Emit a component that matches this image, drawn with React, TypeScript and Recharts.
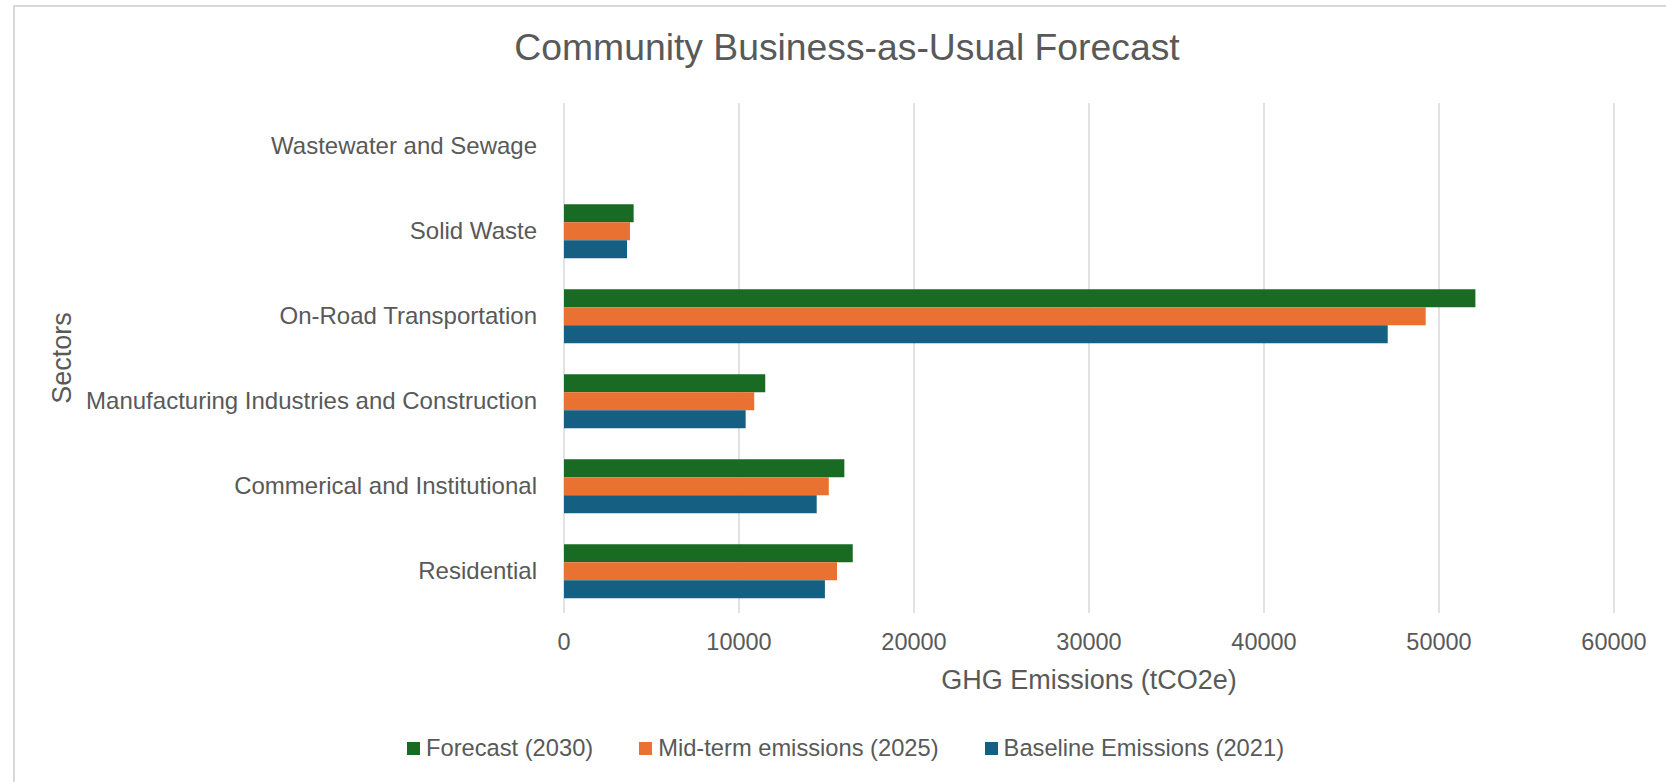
import React from 'react';
import { BarChart, Bar, XAxis, YAxis, CartesianGrid, Legend } from 'recharts';

const categories = [
  'Wastewater and Sewage',
  'Solid Waste',
  'On-Road Transportation',
  'Manufacturing Industries and Construction',
  'Commerical and Institutional',
  'Residential',
];
const forecast2030 = [0, 3980, 52080, 11500, 16020, 16500];
const midterm2025 = [0, 3770, 49240, 10870, 15130, 15600];
const baseline2021 = [0, 3600, 47070, 10380, 14440, 14910];
const xTicks = [0, 10000, 20000, 30000, 40000, 50000, 60000];

const seriesNames = ['Forecast (2030)', 'Mid-term emissions (2025)', 'Baseline Emissions (2021)'];
const seriesColors = ['#196B24', '#E97132', '#156082'];

const data = categories.map((sector, i) => ({
  sector,
  forecast: forecast2030[i],
  midterm: midterm2025[i],
  baseline: baseline2021[i],
}));

const FONT = '"Liberation Sans", Arial, sans-serif';
const TEXT = '#595959';

const LegendContent = () => (
  <div style={{ display: 'flex', alignItems: 'center', fontFamily: FONT, fontSize: 23.7, color: TEXT, height: 30, lineHeight: '30px', whiteSpace: 'nowrap' }}>
    {seriesNames.map((n, i) => (
      <div key={n} style={{ display: 'flex', alignItems: 'center', marginRight: i < 2 ? 46 : 0 }}>
        <span style={{ display: 'inline-block', width: 13, height: 13, background: seriesColors[i], marginRight: 6 }} />
        <span>{n}</span>
      </div>
    ))}
  </div>
);

const SectorsLabel = (props: any) => {
  const vb = props.viewBox || { x: 0, y: 0, width: 0, height: 0 };
  const cx = vb.x + 62;
  const cy = vb.y + vb.height / 2;
  return (
    <text x={cx} y={cy} transform={`rotate(-90, ${cx}, ${cy})`} textAnchor="middle" dominantBaseline="central" fill={TEXT} fontSize={27} fontFamily={FONT}>
      Sectors
    </text>
  );
};

export default function App() {
  return (
    <div style={{ position: 'absolute', left: 0, top: 0, width: 1666, height: 782, background: '#fff', overflow: 'hidden' }}>
      <div style={{ position: 'absolute', left: 13, top: 5, width: 1653, height: 777, borderTop: '2px solid #D9D9D9', borderLeft: '2px solid #D9D9D9', boxSizing: 'border-box' }} />
      <div style={{ position: 'absolute', left: 0, top: 29, width: 1694, textAlign: 'center', fontFamily: FONT, fontSize: 37.3, lineHeight: '37px', color: TEXT, whiteSpace: 'nowrap' }}>
        Community Business-as-Usual Forecast
      </div>
      <div style={{ position: 'absolute', left: 0, top: 0 }}>
        <BarChart
          width={1666}
          height={782}
          data={data}
          layout="vertical"
          margin={{ top: 103, right: 52, bottom: 0, left: 0 }}
          barCategoryGap="19%"
          barGap={0}
        >
          <CartesianGrid horizontal={false} vertical={true} stroke="#D9D9D9" strokeWidth={1.5} />
          <XAxis
            type="number"
            domain={[0, 60000]}
            ticks={xTicks}
            axisLine={false}
            tickLine={false}
            tickMargin={14}
            height={169}
            tick={{ fill: TEXT, fontSize: 23.5, fontFamily: FONT }}
            label={{ value: 'GHG Emissions (tCO2e)', position: 'insideTop', offset: 57, fill: TEXT, fontSize: 27, fontFamily: FONT }}
          />
          <YAxis
            type="category"
            dataKey="sector"
            width={564}
            axisLine={false}
            tickLine={false}
            tickMargin={21}
            interval={0}
            tick={{ fill: TEXT, fontSize: 24, fontFamily: FONT }}
            label={<SectorsLabel />}
          />
          <Legend
            layout="horizontal"
            verticalAlign="middle"
            align="center"
            wrapperStyle={{ top: 733, left: 407, width: 1000 }}
            content={<LegendContent />}
          />
          <Bar dataKey="forecast" name={seriesNames[0]} fill={seriesColors[0]} isAnimationActive={false} />
          <Bar dataKey="midterm" name={seriesNames[1]} fill={seriesColors[1]} isAnimationActive={false} />
          <Bar dataKey="baseline" name={seriesNames[2]} fill={seriesColors[2]} isAnimationActive={false} />
        </BarChart>
      </div>
    </div>
  );
}
